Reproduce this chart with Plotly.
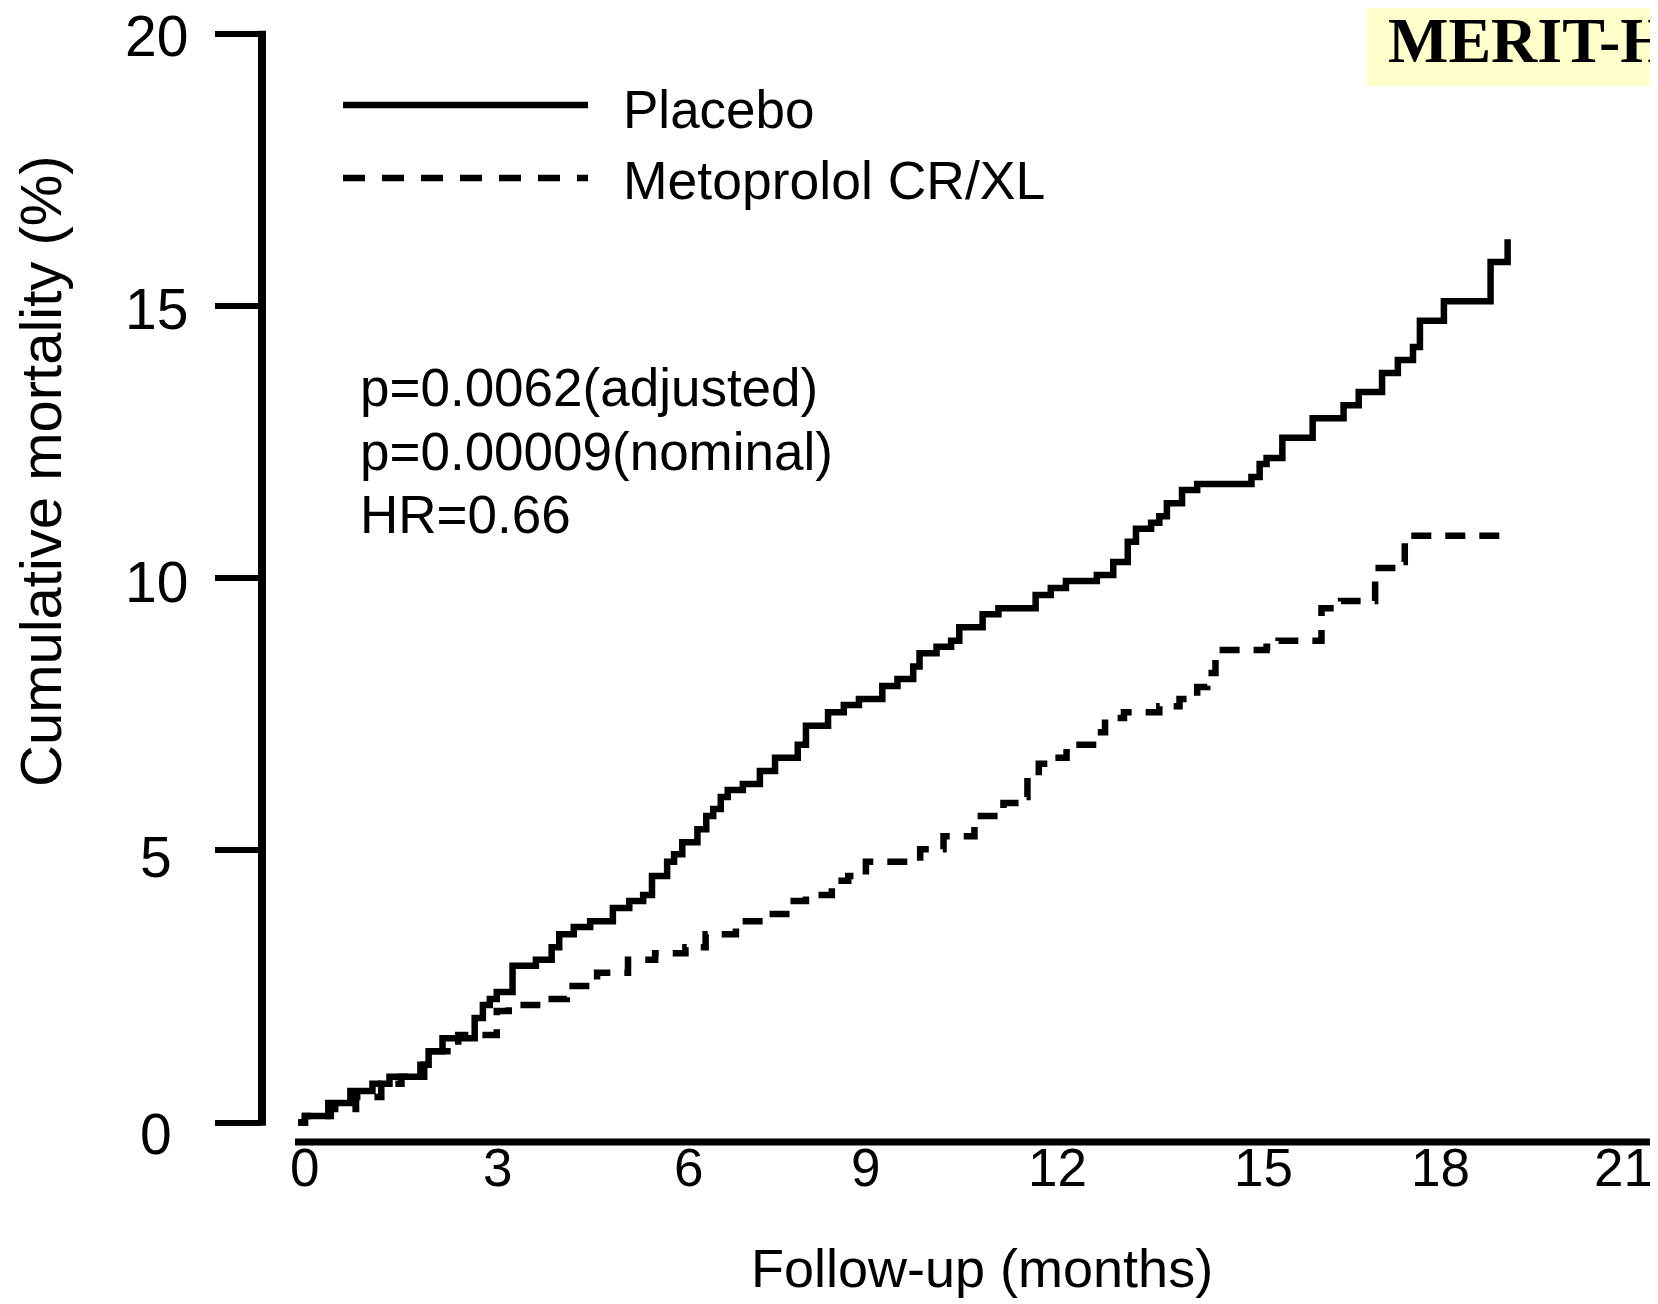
import plotly.graph_objects as go

# ---------------- data ----------------
placebo_months = [0, 0.11, 0.48, 0.83, 1.18, 1.45, 1.94, 2.07, 2.29, 2.80, 2.93, 3.04, 3.15, 3.40,
                  3.77, 4.02, 4.14, 4.37, 4.63, 4.99, 5.25, 5.47, 5.61, 5.85, 5.96, 6.09, 6.33,
                  6.47, 6.58, 6.70, 6.81, 7.05, 7.32, 7.56, 7.92, 8.05, 8.40, 8.65, 8.89, 9.26,
                  9.50, 9.75, 9.85, 10.12, 10.35, 10.48, 10.85, 11.10, 11.69, 11.93, 12.17, 12.66,
                  12.92, 13.15, 13.28, 13.52, 13.65, 13.77, 14.01, 14.25, 15.11, 15.24, 15.35,
                  15.60, 16.08, 16.57, 16.81, 17.18, 17.43, 17.67, 17.78, 18.16, 18.90, 19.17]
placebo_mortality = [0, 0.12, 0.36, 0.58, 0.71, 0.84, 1.06, 1.31, 1.55, 1.92, 2.16, 2.27, 2.40, 2.88,
                     2.99, 3.22, 3.46, 3.59, 3.70, 3.94, 4.07, 4.18, 4.53, 4.79, 4.93, 5.15, 5.39,
                     5.63, 5.76, 5.98, 6.11, 6.22, 6.46, 6.70, 6.94, 7.29, 7.54, 7.67, 7.78, 8.02,
                     8.15, 8.38, 8.62, 8.74, 8.85, 9.10, 9.34, 9.45, 9.69, 9.82, 9.95, 10.06,
                     10.30, 10.67, 10.91, 11.02, 11.14, 11.38, 11.62, 11.73, 11.86, 12.10, 12.21,
                     12.58, 12.94, 13.18, 13.42, 13.77, 14.01, 14.25, 14.73, 15.09, 15.81, 16.23]

metoprolol_months = [0, 0.11, 0.52, 0.92, 1.32, 1.64, 2.00, 2.13, 2.54, 3.15, 3.34, 3.79, 4.26, 4.74,
                     5.23, 5.66, 6.14, 6.46, 6.94, 7.43, 7.79, 8.05, 8.46, 8.72, 9.00, 9.86, 10.23,
                     10.72, 11.18, 11.45, 11.56, 11.74, 11.93, 12.18, 12.66, 12.79, 13.09, 13.65,
                     13.97, 14.25, 14.41, 14.54, 15.35, 15.54, 16.22, 16.53, 17.07, 17.42, 17.54, 19.20]
metoprolol_mortality = [0, 0.12, 0.25, 0.47, 0.71, 0.84, 1.06, 1.31, 1.61, 2.05, 2.16, 2.27, 2.51, 2.75,
                        2.99, 3.11, 3.22, 3.46, 3.70, 3.83, 4.07, 4.18, 4.44, 4.53, 4.79, 5.02, 5.26,
                        5.63, 5.87, 5.98, 6.35, 6.59, 6.70, 6.94, 7.17, 7.43, 7.54, 7.65, 7.78, 8.00,
                        8.26, 8.68, 8.74, 8.85, 9.45, 9.58, 10.19, 10.30, 10.78, 10.78]

x_ticks = [0, 3, 6, 9, 12, 15, 18, 21]
x_tick_labels = ["0", "3", "6", "9", "12", "15", "18", "21"]
y_ticks = [0, 5, 10, 15, 20]
y_tick_labels = ["0", "5", "10", "15", "20"]

series_names = ["Placebo", "Metoprolol CR/XL"]
stats_lines = ["p=0.0062(adjusted)", "p=0.00009(nominal)", "HR=0.66"]
x_title = "Follow-up (months)"
y_title = "Cumulative mortality (%)"
badge = "MERIT-HF"

# ---------------- geometry ----------------
W, H = 1658, 1304
DX, DY = -9, -7                      # global nudge of the layout
L, R, T, B = 263 + DX, 5, 28 + DY, 163 - DY
PW, PH = W - L - R, H - T - B

def pxx(p):  # pixel x -> paper
    return (p + DX - L) / PW

def pxy(p):  # pixel y (from top) -> paper
    return (H - B - (p + DY)) / PH

X0PX, XS = 290, 63.1
Y0PX, YS = 1121.5 + DY, 54.425
x_range = [(L - X0PX) / XS, (W - R - X0PX) / XS]
y_range = [(Y0PX - (H - B)) / YS, (Y0PX - T) / YS]

SANS = "Liberation Sans, Arial, Helvetica, sans-serif"
SERIF = "Liberation Serif, Times New Roman, serif"

fig = go.Figure()
fig.add_trace(go.Scatter(x=placebo_months, y=placebo_mortality, mode="lines",
                         line=dict(color="black", width=6.5, shape="hv"),
                         name=series_names[0], showlegend=False))
fig.add_trace(go.Scatter(x=metoprolol_months, y=metoprolol_mortality, mode="lines",
                         line=dict(color="black", width=6.5, shape="hv", dash="20px,14px"),
                         name=series_names[1], showlegend=False))

shapes = [
    # y axis line (only from 0 to 20)
    dict(type="line", xref="paper", yref="y", x0=0, x1=0, y0=-0.06, y1=20.06,
         line=dict(color="black", width=8)),
    # x axis line
    dict(type="line", xref="paper", yref="paper", x0=pxx(296), x1=1, y0=0, y1=0,
         line=dict(color="black", width=7)),
    # legend samples
    dict(type="line", xref="paper", yref="paper", x0=pxx(344), x1=pxx(589), y0=pxy(104), y1=pxy(104),
         line=dict(color="black", width=6.5)),
    dict(type="line", xref="paper", yref="paper", x0=pxx(344), x1=pxx(589), y0=pxy(177), y1=pxy(177),
         line=dict(color="black", width=6.5, dash="22px,17px")),
    # badge background
    dict(type="rect", xref="paper", yref="paper", x0=pxx(1368), x1=pxx(1730), y0=pxy(85), y1=pxy(-20),
         fillcolor="#FFFFCC", line=dict(width=0), layer="below"),
]

annotations = []
x_label_nudge = [6, 10, 12, 0, 2, 19, 7, 0]
for v, t, s in zip(x_ticks, x_tick_labels, x_label_nudge):
    annotations.append(dict(x=v, xref="x", y=0, yref="paper", yshift=-25, xshift=s, text=t,
                            showarrow=False, xanchor="center", yanchor="middle",
                            font=dict(family=SANS, size=53, color="black")))
y_label_shift = [-11, -7, -4, -3, -2]
for v, t, s in zip(y_ticks, y_tick_labels, y_label_shift):
    annotations.append(dict(x=pxx(157), xref="paper", y=v, yref="y", yshift=s, text=t, showarrow=False,
                            xanchor="center", yanchor="middle", font=dict(family=SANS, size=57, color="black")))

annotations.append(dict(x=pxx(983), xref="paper", y=pxy(1267), yref="paper", text=x_title, showarrow=False,
                        xanchor="center", yanchor="middle", font=dict(family=SANS, size=54, color="black")))
annotations.append(dict(x=pxx(41), xref="paper", y=pxy(470), yref="paper", text=y_title, showarrow=False,
                        textangle=-90, xanchor="center", yanchor="middle",
                        font=dict(family=SANS, size=58, color="black")))

annotations.append(dict(x=pxx(622), xref="paper", y=pxy(108), yref="paper", text=series_names[0],
                        showarrow=False, xanchor="left", yanchor="middle",
                        font=dict(family=SANS, size=53, color="black")))
annotations.append(dict(x=pxx(622), xref="paper", y=pxy(179), yref="paper", text=series_names[1],
                        showarrow=False, xanchor="left", yanchor="middle",
                        font=dict(family=SANS, size=53.5, color="black")))

for yy, t in zip([387, 451, 514], stats_lines):
    annotations.append(dict(x=pxx(359), xref="paper", y=pxy(yy), yref="paper", text=t, showarrow=False,
                            xanchor="left", yanchor="middle", font=dict(family=SANS, size=53, color="black")))

annotations.append(dict(x=pxx(1387), xref="paper", y=pxy(40), yref="paper", text=badge, showarrow=False,
                        xanchor="left", yanchor="middle",
                        font=dict(family=SERIF, size=64, color="black", weight="bold")))

fig.update_layout(
    width=W, height=H,
    margin=dict(l=L, r=R, t=T, b=B, autoexpand=False),
    paper_bgcolor="white", plot_bgcolor="rgba(0,0,0,0)",
    xaxis=dict(range=x_range, showgrid=False, zeroline=False, showline=False,
               showticklabels=False, ticks="", tickvals=x_ticks),
    yaxis=dict(range=y_range, showgrid=False, zeroline=False, showline=False,
               tickvals=y_ticks, ticks="outside", ticklen=46, tickwidth=6, tickcolor="black",
               showticklabels=False),
    shapes=shapes, annotations=annotations, showlegend=False,
)

fig.write_html("out.html")
